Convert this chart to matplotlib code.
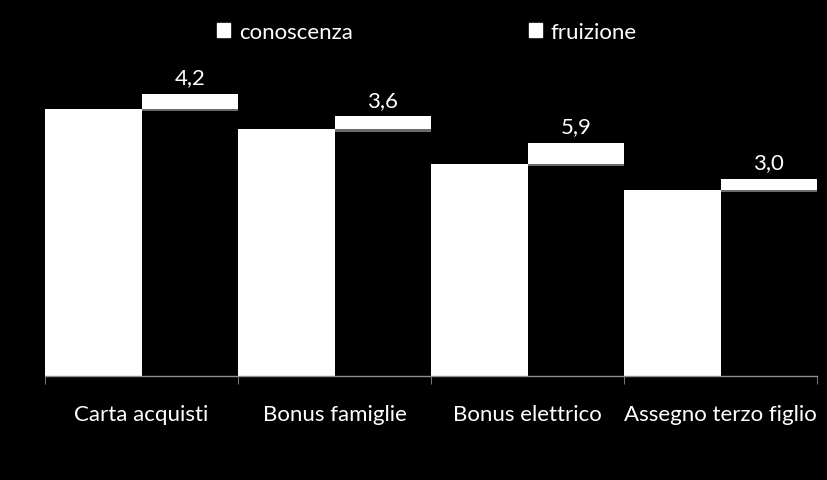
import numpy as np
import matplotlib.pyplot as plt
from matplotlib.patches import Patch

# data
categories = ['Carta acquisti', 'Bonus famiglie', 'Bonus elettrico', 'Assegno terzo figlio']
conoscenza = [74.2, 68.6, 58.9, 51.8]
fruizione = [4.2, 3.6, 5.9, 3.0]
fruizione_labels = ['4,2', '3,6', '5,9', '3,0']

plt.rcParams['font.family'] = ['Lato', 'DejaVu Sans']

fig = plt.figure(figsize=(8.27, 4.81), dpi=100, facecolor='black')
ax = fig.add_axes([45 / 827, 104 / 481, 772 / 827, 317 / 481], facecolor='black')

x = np.arange(len(categories))
w = 0.5

ax.bar(x - w / 2, conoscenza, width=w, color='white', linewidth=0)
# soft shadow under the floating segments
ax.bar(x + w / 2, [0.7] * 4, bottom=np.array(conoscenza) - 0.7, width=w,
       color='#6a6a6a', linewidth=0)
ax.bar(x + w / 2, fruizione, bottom=conoscenza, width=w, color='white', linewidth=0)

for xi, base, v, lab in zip(x, conoscenza, fruizione, fruizione_labels):
    ax.text(xi + w / 2, base + v + 1.8, lab, ha='center', va='bottom',
            color='white', fontsize=16)

ax.set_xlim(-0.5, len(categories) - 0.5)
ax.set_ylim(0, 317 / 3.6)

ax.set_xticks(x)
ax.set_xticklabels(categories, color='white', fontsize=16)
ax.tick_params(axis='x', which='major', length=0, pad=20)
ax.set_xticks(np.arange(len(categories) + 1) - 0.5, minor=True)
ax.tick_params(axis='x', which='minor', length=6, color='#909090', direction='out')
ax.set_yticks([])

for s in ['top', 'right', 'left']:
    ax.spines[s].set_visible(False)
ax.spines['bottom'].set_color('#909090')
ax.spines['bottom'].set_linewidth(1)

handles = [Patch(facecolor='white', edgecolor='white', label='conoscenza'),
           Patch(facecolor='white', edgecolor='white', label='fruizione')]
fig.legend(handles=handles, loc='center', bbox_to_anchor=(427 / 827, 1 - 33 / 481),
           ncol=2, frameon=False, fontsize=16, labelcolor='white',
           handlelength=0.6, handleheight=0.6, handletextpad=0.4, columnspacing=7.9)

fig.savefig('out.png', dpi=100, facecolor='black')
